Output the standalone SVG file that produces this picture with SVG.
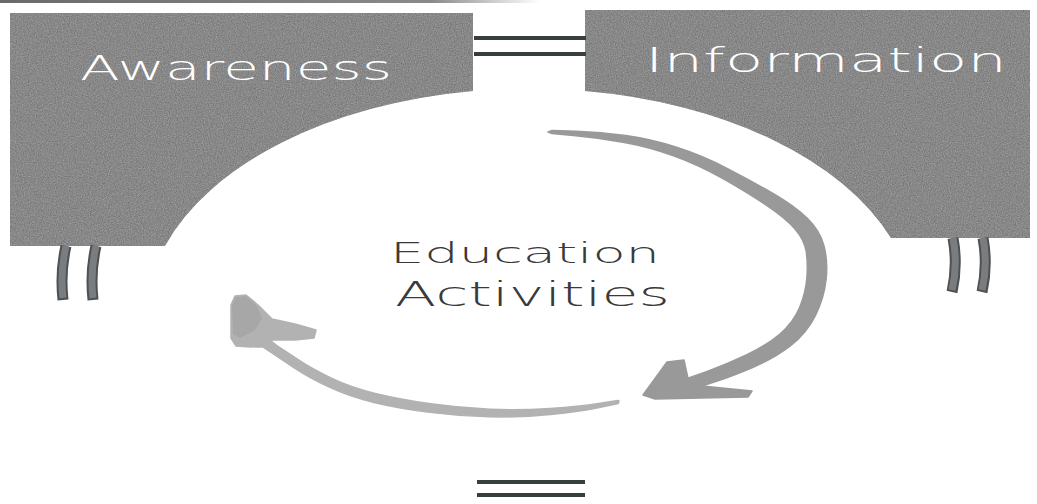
<svg xmlns="http://www.w3.org/2000/svg" width="1037" height="504" viewBox="0 0 1037 504">
  <style>
    .box { fill: #8b8b8b; }
    .label { font-family: "DejaVu Sans", "Liberation Sans", sans-serif; font-weight: 200; font-variant-ligatures: none; }
    .boxlabel { fill: #ffffff; }
    .centerlabel { fill: #3a3a3a; }
    .rail { stroke: #35403e; stroke-width: 4; fill: none; stroke-linecap: butt; }
    .post-out { stroke: #4e5154; stroke-width: 11; fill: none; }
    .post-in { stroke: #7a7d80; stroke-width: 7; fill: none; }
  </style>
  <defs>
    <filter id="grain" x="0" y="0" width="100%" height="100%" color-interpolation-filters="sRGB">
      <feTurbulence type="fractalNoise" baseFrequency="0.85" numOctaves="2" seed="4" result="noise"/>
      <feColorMatrix in="noise" type="matrix" values="1 0 0 0 0  1 0 0 0 0  1 0 0 0 0  0 0 0 0 0.25" result="speck"/>
      <feComposite in="speck" in2="SourceGraphic" operator="in" result="speckIn"/>
      <feMerge>
        <feMergeNode in="SourceGraphic"/>
        <feMergeNode in="speckIn"/>
      </feMerge>
    </filter>
    <linearGradient id="topband" x1="0" y1="0" x2="1" y2="0">
      <stop offset="0" stop-color="#6a6a6a"/>
      <stop offset="0.8" stop-color="#8a8a8a"/>
      <stop offset="1" stop-color="#ffffff"/>
    </linearGradient>
  </defs>

  <rect width="1037" height="504" fill="#ffffff"/>
  <rect x="0" y="0" width="540" height="3" fill="url(#topband)"/>

  <!-- Awareness panel: rectangle with an elliptical bite -->
  <g id="awareness">
    <path class="box" filter="url(#grain)" d="M10,13 H473 V91 A384,228 0 0 0 165,246 H10 Z"/>
    <text class="label boxlabel" x="80" y="80" font-size="34" textLength="312" lengthAdjust="spacingAndGlyphs">Awareness</text>
  </g>

  <!-- Information panel -->
  <g id="information">
    <path class="box" filter="url(#grain)" d="M585,10 H1030 V238 H891 A384,228 0 0 0 585,91 Z"/>
    <text class="label boxlabel" x="645" y="72" font-size="33" textLength="362" lengthAdjust="spacingAndGlyphs">Information</text>
  </g>

  <!-- Centre caption -->
  <g id="education-activities">
    <text class="label centerlabel" x="390" y="263" font-size="29" textLength="270" lengthAdjust="spacingAndGlyphs">Education</text>
    <text class="label centerlabel" x="395" y="306" font-size="33" textLength="275" lengthAdjust="spacingAndGlyphs">Activities</text>
  </g>

  <g id="connectors">
    <!-- double rail between the two panels -->
    <line class="rail" x1="474" y1="38" x2="586" y2="38"/>
    <line class="rail" x1="474" y1="54" x2="586" y2="54"/>

    <!-- double rail at the bottom -->
    <line class="rail" x1="477" y1="482" x2="585" y2="482"/>
    <line class="rail" x1="477" y1="495" x2="585" y2="495"/>

    <!-- posts under the Awareness panel -->
    <path class="post-out" d="M66,246 Q60,272 63,300"/>
    <path class="post-in" d="M66,246 Q60,272 63,298"/>
    <path class="post-out" d="M96,246 Q90,272 93,300"/>
    <path class="post-in" d="M96,246 Q90,272 93,298"/>

    <!-- posts under the Information panel -->
    <path class="post-out" d="M953,238 Q958,265 952,292"/>
    <path class="post-in" d="M953,238 Q958,265 952,290"/>
    <path class="post-out" d="M983,238 Q988,265 982,292"/>
    <path class="post-in" d="M983,238 Q988,265 982,290"/>

    <!-- clockwise brush arrow on the right -->
    <path fill="#999999" stroke="#999999" stroke-width="1.5" stroke-linejoin="round"
      d="M643,395 L667,362 L684,360 L688,378.3
         L707.8,371.2 Q727.6,364 746.9,354.8 Q766.1,345.6 779.7,334.2 Q793.3,322.7 799.6,307.6
         Q805.8,292.5 806.9,277.5 Q808,262.5 806.1,251 Q804.1,239.4 794.8,228.7 Q785.4,217.9 766.2,205.1
         Q747,192.2 722.5,178.4 Q698,164.6 673.5,155.8 Q649,146.9 624.4,142.5 Q599.7,138 575.9,135.8
         L552,133.5 L548,132 L552,130.5
         L576.2,131.2 Q600.3,132 625.7,135.6 Q651,139.1 676.5,147.3 Q702,155.4 727.5,168.6
         Q753,181.8 773.8,194 Q794.6,206.1 807.3,218.4 Q819.9,230.6 824,246 Q828,261.5 826.1,279.5
         Q824.2,297.5 815.5,315.4 Q806.7,333.3 790.3,345.9 Q773.9,358.4 753.2,367.2 Q732.4,376 717.2,381
         L702,386 L752,391 L748,397 L655,399 Z"/>

    <!-- return brush arrow along the bottom -->
    <path fill="#b2b2b2" stroke="#b2b2b2" stroke-width="1.5" stroke-linejoin="round"
      d="M619,401 L618.3,403.5 L599.3,407.5 Q580.3,411.5 550.2,414.5 Q520.1,417.5 489.9,416.8
         Q459.7,416 429.5,412.2 Q399.2,408.4 373.9,402.4 Q348.5,396.3 328.2,386.6 Q307.8,376.9 294.2,367.8
         Q280.5,358.7 271.5,352.7 L262.5,346.7
         L250,347 L236,346 L231,338 L231,305 L235,296 L246,295 L258,305 L272,319
         L295,324 L316,330 L314,338 L295,340 L270,340
         L276.5,345.3 Q285.5,351.3 298.9,360.2 Q312.2,369.1 331.9,378.4 Q351.5,387.7 376.2,393.7
         Q400.8,399.6 430.6,403.8 Q460.3,408 490.1,409.3 Q519.9,410.5 549.8,408.5 Q579.7,406.5 598.7,403.5
         L617.7,400.5 Z"/>
    <path fill="#a2a2a2" d="M236,297 L246,296 L257,306 L262,318 L255,330 L240,338 L233,334 L232,305 Z" opacity="0.7"/>
  </g>
</svg>
